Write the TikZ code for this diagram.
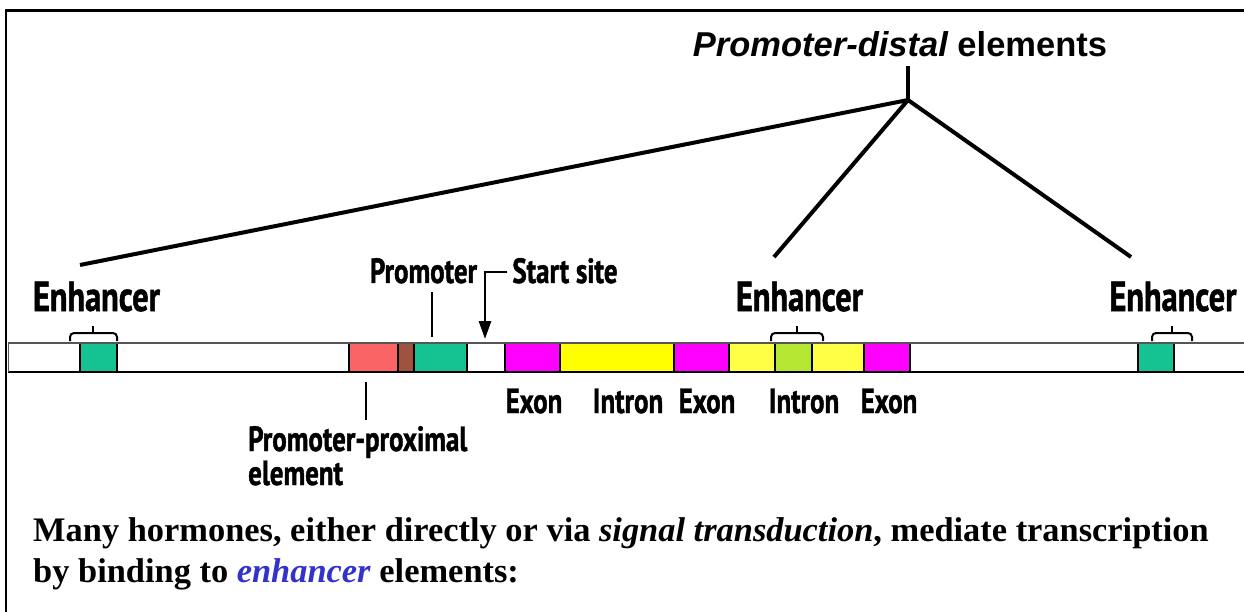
\documentclass[tikz,border=0pt]{standalone}
\usepackage{fontspec}
\setmainfont{Liberation Serif}
\newfontfamily\labfont{PT Sans}[FakeStretch=0.77, BoldFeatures={FakeBold=1.2}]
\newfontfamily\headfont{Liberation Sans}
\usetikzlibrary{arrows.meta}
\definecolor{enhgreen}{RGB}{20,195,145}
\definecolor{proxred}{RGB}{250,100,100}
\definecolor{proxbrown}{RGB}{160,82,65}
\definecolor{exmag}{RGB}{255,0,255}
\definecolor{inyel}{RGB}{255,255,0}
\definecolor{lightyel}{RGB}{255,255,70}
\definecolor{yelgreen}{RGB}{180,230,50}
\definecolor{barline}{RGB}{85,85,85}
\definecolor{enhblue}{RGB}{51,51,204}
\tikzset{
  lab/.style={font={\labfont\bfseries\fontsize{35}{35}\selectfont}, inner sep=0pt, anchor=base},
  biglab/.style={font={\labfont\bfseries\fontsize{42}{42}\selectfont}, inner sep=0pt, anchor=base},
  thick line/.style={line width=4pt},
  tick line/.style={line width=2.5pt},
  bracketline/.style={line width=2pt, rounded corners=4pt},
  bodytext/.style={font={\bfseries\fontsize{34.4}{40}\selectfont}, inner sep=0pt, anchor=base west}
}
\newcommand\enhbracket[3]{%
  \draw[bracketline] (#1,341) -- (#1,333) -- (#3,333) -- (#3,341);
  \draw[line width=2pt] (#2,333) -- (#2,326);}
\begin{document}
\begin{tikzpicture}[x=1pt,y=-1pt]
\useasboundingbox (0,0) rectangle (1244,612);
\fill[white] (0,0) rectangle (1244,612);
% frame
\draw[line width=2.5pt] (6,612) -- (6,10.5) -- (1244,10.5);

% bar
\fill[white] (8,343) rectangle (1244,372);
\fill[enhgreen] (80,343) rectangle (117,372);
\fill[proxred] (349,343) rectangle (398,372);
\fill[proxbrown] (398,343) rectangle (414,372);
\fill[enhgreen] (414,343) rectangle (467,372);
\fill[exmag] (505,343) rectangle (560,372);
\fill[inyel] (560,343) rectangle (674,372);
\fill[exmag] (674,343) rectangle (729,372);
\fill[lightyel] (729,343) rectangle (775,372);
\fill[yelgreen] (775,343) rectangle (812,372);
\fill[lightyel] (812,343) rectangle (864,372);
\fill[exmag] (864,343) rectangle (910,372);
\fill[enhgreen] (1138,343) rectangle (1174,372);
\foreach \x in {80,117,349,398,414,467,505,560,674,729,775,812,864,910,1138,1174}
  \draw[line width=1.2pt] (\x,343) -- (\x,372);
\draw[barline, line width=1.8pt] (8,343) -- (1244,343);
\draw[line width=1.8pt] (8,372) -- (1244,372);
\draw[barline, line width=1pt] (8,343) -- (8,372);

% heading and tree
\node (head) [anchor=base, inner sep=0pt, font={\headfont\bfseries\fontsize{34.5}{34.5}\selectfont}] at (900,57) {\itshape Promoter-distal\upshape{} elements};
\coordinate (stemtop) at (908,66);
\coordinate (J) at (908,100);
\coordinate (endL) at (80,265);
\coordinate (endM) at (774,257);
\coordinate (endR) at (1131,257);
\draw[thick line] (stemtop) -- (J);
\draw[thick line, line join=round] (endL) -- (J) -- (endM);
\draw[thick line] (J) -- (endR);

% enhancer labels and brackets
\node (enh1) [biglab] at (96.5,311) {Enhancer};
\node (enh2) [biglab] at (799.5,311) {Enhancer};
\node (enh3) [biglab] at (1173,311) {Enhancer};
\enhbracket{70}{93}{117}
\enhbracket{771}{797}{823}
\enhbracket{1152}{1172}{1192}

% promoter and start site
\node (prom) [lab] at (423.5,283) {Promoter};
\node (start) [lab] at (565,283) {Start site};
\coordinate (promtop) at (432,292);
\coordinate (prombot) at (432,337);
\draw[tick line] (promtop) -- (prombot);
\coordinate (ssA) at (507,272);
\coordinate (ssB) at (485,272);
\coordinate (ssC) at (485,339);
\draw[line width=2.8pt, -{Triangle[length=18pt,width=12pt]}] (ssA) -- (ssB) -- (ssC);

% promoter-proximal
\coordinate (pptop) at (366,382);
\coordinate (ppbot) at (366,420);
\draw[tick line] (pptop) -- (ppbot);
\node (pp1) [lab, anchor=base west] at (248,451) {Promoter-proximal};
\node (pp2) [lab, anchor=base west] at (248,485) {element};

% exon / intron labels
\node (ex1) [lab] at (534,413) {Exon};
\node (in1) [lab] at (628,413) {Intron};
\node (ex2) [lab] at (707,413) {Exon};
\node (in2) [lab] at (804,413) {Intron};
\node (ex3) [lab] at (889,413) {Exon};

% body text
\node (body1) [bodytext] at (33,541) {Many hormones, either directly or via \textit{signal transduction}, mediate transcription};
\node (body2) [bodytext] at (33,582) {by binding to \textcolor{enhblue}{\textit{enhancer}} elements:};
\end{tikzpicture}
\end{document}
